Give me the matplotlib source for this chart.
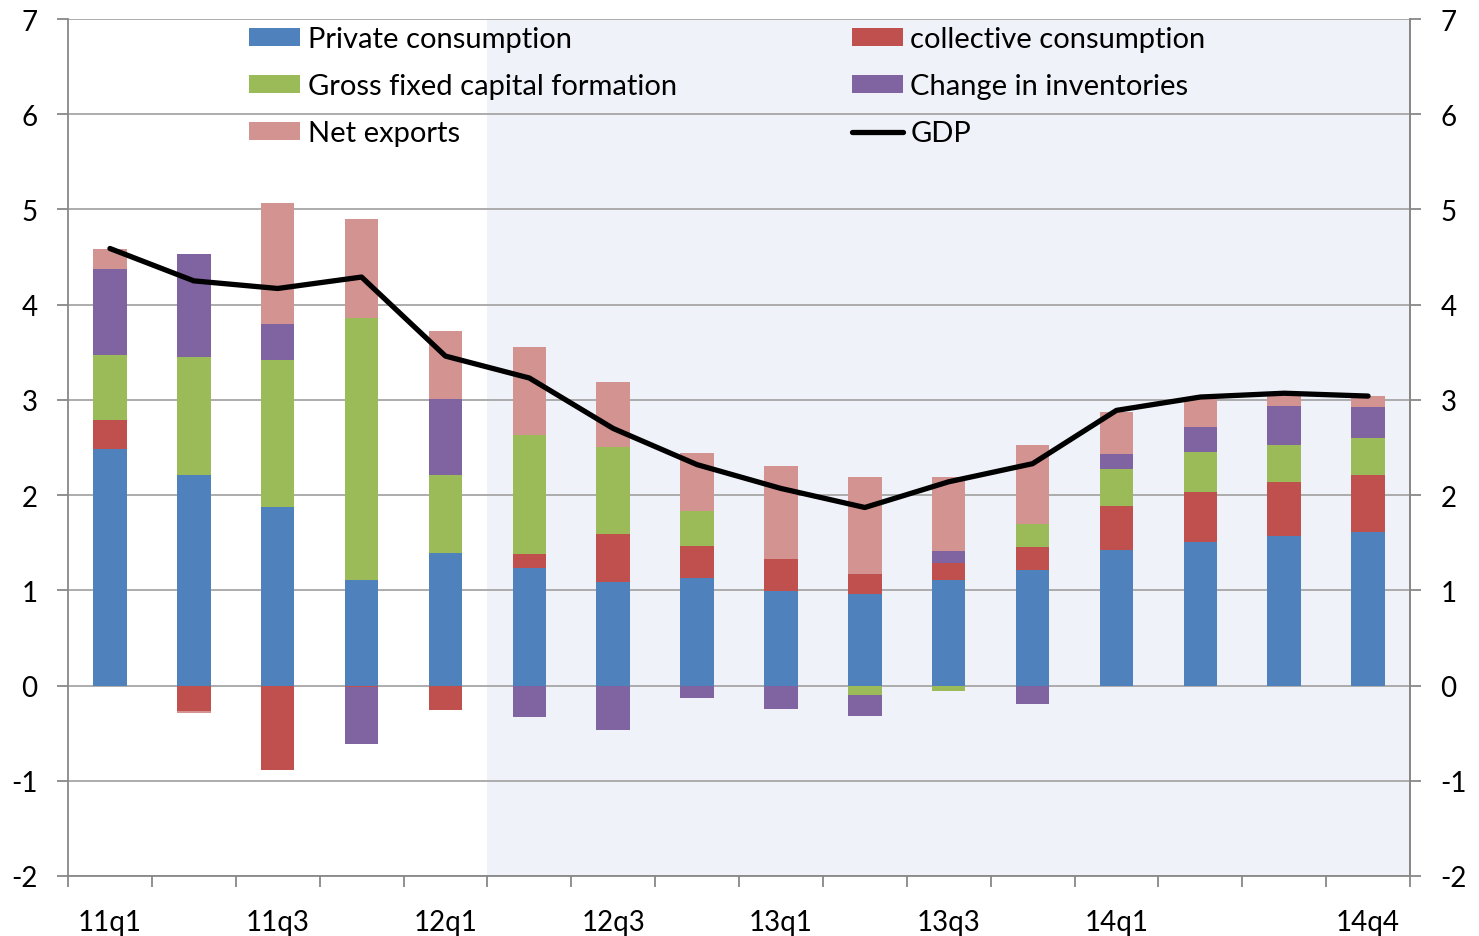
import matplotlib.pyplot as plt
import numpy as np

quarters = ['11q1', '11q2', '11q3', '11q4', '12q1', '12q2', '12q3', '12q4',
            '13q1', '13q2', '13q3', '13q4', '14q1', '14q2', '14q3', '14q4']

private = [2.48, 2.21, 1.87, 1.11, 1.39, 1.23, 1.09, 1.13, 0.99, 0.96, 1.11, 1.21, 1.42, 1.51, 1.57, 1.61]
collective = [0.31, -0.27, -0.89, -0.02, -0.26, 0.15, 0.50, 0.34, 0.34, 0.21, 0.18, 0.24, 0.47, 0.52, 0.57, 0.60]
gfcf = [0.68, 1.24, 1.55, 2.75, 0.82, 1.25, 0.92, 0.36, 0.0, -0.10, -0.06, 0.25, 0.38, 0.42, 0.39, 0.39]
inventories = [0.90, 1.08, 0.38, -0.59, 0.80, -0.33, -0.47, -0.13, -0.25, -0.22, 0.12, -0.19, 0.16, 0.27, 0.41, 0.33]
net_exports = [0.21, -0.02, 1.27, 1.04, 0.71, 0.93, 0.68, 0.61, 0.98, 1.02, 0.78, 0.83, 0.44, 0.30, 0.13, 0.11]
gdp = [4.59, 4.25, 4.17, 4.29, 3.46, 3.23, 2.70, 2.32, 2.07, 1.87, 2.14, 2.33, 2.89, 3.03, 3.07, 3.04]

series = [
    ('Private consumption', private, '#4F81BD'),
    ('collective consumption', collective, '#C0504D'),
    ('Gross fixed capital formation', gfcf, '#9BBB59'),
    ('Change in inventories', inventories, '#8064A2'),
    ('Net exports', net_exports, '#D39391'),
]

plt.rcParams['font.family'] = ['Lato', 'DejaVu Sans']
plt.rcParams['axes.unicode_minus'] = False

fig = plt.figure(figsize=(14.79, 9.37), dpi=100)
ax = fig.add_axes([68 / 1479, 60 / 937, 1342 / 1479, 857 / 937])

x = np.arange(len(quarters))
ax.axvspan(4.5, len(quarters) - 0.5, color='#EFF3F9', zorder=0, lw=0)

pos_base = np.zeros(len(x))
neg_base = np.zeros(len(x))
bars = {}
for name, vals, col in series:
    v = np.array(vals)
    bottom = np.where(v >= 0, pos_base, neg_base)
    b = ax.bar(x, v, 0.4, bottom=bottom, color=col, zorder=3, lw=0)
    bars[name] = b
    pos_base = pos_base + np.where(v >= 0, v, 0)
    neg_base = neg_base + np.where(v < 0, v, 0)

line, = ax.plot(x, gdp, color='black', lw=3.8, zorder=4, solid_capstyle='round')

ax.set_xlim(-0.5, len(quarters) - 0.5)
ax.set_ylim(-2, 7)
ax.set_yticks(range(-2, 8))
ax.yaxis.grid(True, color='#A6A6A6', lw=1.3, zorder=1)
ax.set_axisbelow(True)

ax.set_xticks(np.arange(-0.5, len(quarters)), minor=False)
ax.set_xticklabels([])
lab_idx = [0, 2, 4, 6, 8, 10, 12, 15]
ax.set_xticks(lab_idx, minor=True)
ax.set_xticklabels([quarters[i] for i in lab_idx], minor=True, fontsize=20)
ax.tick_params(axis='x', which='major', length=8, color='#888888', width=1.3)
ax.tick_params(axis='x', which='minor', length=0, pad=24)
ax.tick_params(axis='y', length=8, color='#888888', width=1.3, labelsize=20, pad=14)

ax.spines['top'].set_visible(False)
for s in ['left', 'right', 'bottom']:
    ax.spines[s].set_color('#888888')
    ax.spines[s].set_linewidth(1.3)

ax2 = ax.twinx()
ax2.set_ylim(-2, 7)
ax2.set_yticks(range(-2, 8))
ax2.tick_params(axis='y', length=8, color='#888888', width=1.3, labelsize=20, pad=14)
for s in ['top', 'left', 'bottom']:
    ax2.spines[s].set_visible(False)
ax2.spines['right'].set_color('#888888')
ax2.spines['right'].set_linewidth(1.3)

leg_kw = dict(loc='upper left', frameon=False, fontsize=21, handlelength=1.75,
              handleheight=0.58, handletextpad=0.25, labelspacing=0.72, borderaxespad=0)
leg1 = ax.legend([bars['Private consumption'], bars['Gross fixed capital formation'], bars['Net exports']],
                 ['Private consumption', 'Gross fixed capital formation', 'Net exports'],
                 bbox_to_anchor=(0.1265, 1.005), **leg_kw)
ax.add_artist(leg1)
ax.legend([bars['collective consumption'], bars['Change in inventories'], line],
          ['collective consumption', 'Change in inventories', 'GDP'],
          bbox_to_anchor=(0.5755, 1.005), **leg_kw)

fig.savefig('out.png', dpi=100)
